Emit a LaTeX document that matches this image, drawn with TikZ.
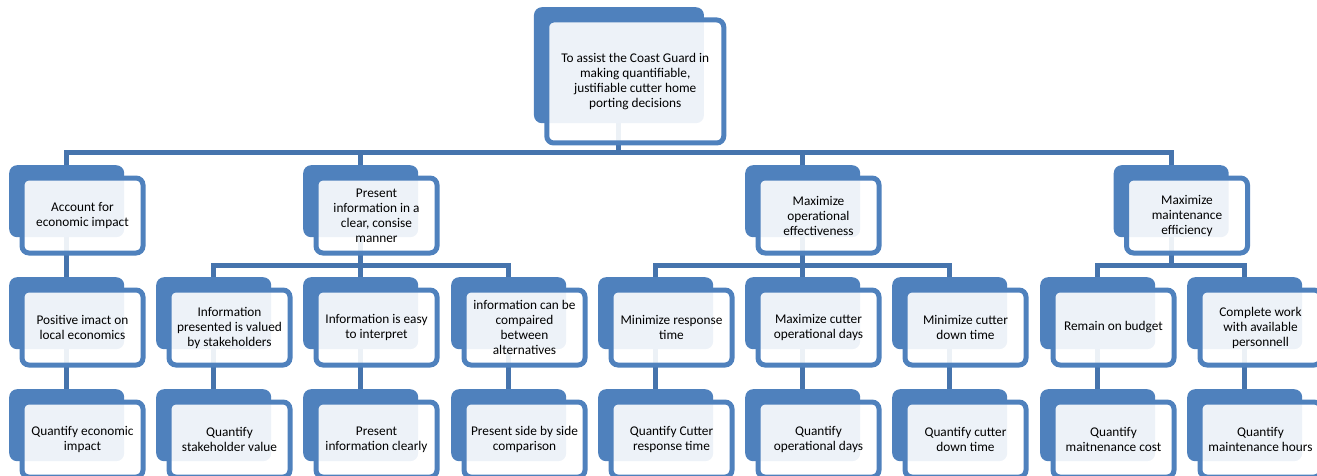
\documentclass[tikz,border=0pt]{standalone}
\usepackage{fontspec}
\setmainfont{Carlito}
\usepackage{tikz}
\usetikzlibrary{backgrounds}
\definecolor{goalblue}{HTML}{4F81BD}
\definecolor{linkblue}{HTML}{4674AD}

% back plate + framed text box, named #1b and #1
\newcommand{\goal}[4]{%
  \node[back] (#1b) at (#2,#3) {};
  \node[front] (#1) at (#2+10.5,#3+10.5) {#4};}

\begin{document}
\begin{tikzpicture}[x=1pt, y=-1pt]
\tikzstyle{back} = [anchor=north west, fill=goalblue, rounded corners=8pt, minimum width=115pt, minimum height=72pt, inner sep=0pt]
\tikzstyle{front} = [anchor=north west, draw=goalblue, line width=5pt, fill=white, fill opacity=0.9, text opacity=1, rounded corners=7pt, minimum width=121pt, minimum height=75pt, inner sep=0pt, align=center, font=\fontsize{13.3}{15}\selectfont]
\tikzstyle{link} = [draw=linkblue, line width=5pt]
\useasboundingbox (0,0) rectangle (1317,476);

\node[back, minimum width=170pt, minimum height=116pt] (goalb) at (533.75,7) {};
\node[front, minimum width=177pt, minimum height=123pt] (goal) at (544.25,17.5) {To assist the Coast Guard in\\making quantifiable,\\justifiable cutter home\\porting decisions};

\goal{acc}{9}{165}{Account for\\economic impact}
\goal{pres}{303}{165}{Present\\information in a\\clear, consise\\manner}
\goal{maxop}{745}{165}{Maximize\\operational\\effectiveness}
\goal{maxmt}{1113.5}{165}{Maximize\\maintenance\\efficiency}

\goal{pos}{9}{277}{Positive imact on\\local economics}
\goal{infv}{156}{277}{Information\\presented is valued\\by stakeholders}
\goal{infe}{303}{277}{Information is easy\\to interpret}
\goal{infc}{451}{277}{information can be\\compaired\\between\\alternatives}
\goal{minr}{598}{277}{Minimize response\\time}
\goal{maxd}{745}{277}{Maximize cutter\\operational days}
\goal{mind}{892}{277}{Minimize cutter\\down time}
\goal{budg}{1040}{277}{Remain on budget}
\goal{pers}{1187}{277}{Complete work\\with available\\personnell}

\goal{qeco}{9}{389}{Quantify economic\\impact}
\goal{qstk}{156}{389}{Quantify\\stakeholder value}
\goal{pinf}{303}{389}{Present\\information clearly}
\goal{pside}{451}{389}{Present side by side\\comparison}
\goal{qresp}{598}{389}{Quantify Cutter\\response time}
\goal{qdays}{745}{389}{Quantify\\operational days}
\goal{qdown}{892}{389}{Quantify cutter\\down time}
\goal{qcost}{1040}{389}{Quantify\\maitnenance cost}
\goal{qhrs}{1187}{389}{Quantify\\maintenance hours}

\begin{pgfonlayer}{background}
\draw[link] (goalb.south) -- ++(0,29) -| (accb.north);
\draw[link] (goalb.south) -- ++(0,29) -| (presb.north);
\draw[link] (goalb.south) -- ++(0,29) -| (maxopb.north);
\draw[link] (goalb.south) -- ++(0,29) -| (maxmtb.north);
\draw[link] (accb.south) -- (posb.north);
\draw[link] (presb.south) -- ++(0,28) -| (infvb.north);
\draw[link] (presb.south) -- ++(0,28) -| (infeb.north);
\draw[link] (presb.south) -- ++(0,28) -| (infcb.north);
\draw[link] (maxopb.south) -- ++(0,28) -| (minrb.north);
\draw[link] (maxopb.south) -- ++(0,28) -| (maxdb.north);
\draw[link] (maxopb.south) -- ++(0,28) -| (mindb.north);
\draw[link] (maxmtb.south) -- ++(0,28) -| (budgb.north);
\draw[link] (maxmtb.south) -- ++(0,28) -| (persb.north);
\draw[link] (posb.south) -- (qecob.north);
\draw[link] (infvb.south) -- (qstkb.north);
\draw[link] (infeb.south) -- (pinfb.north);
\draw[link] (infcb.south) -- (psideb.north);
\draw[link] (minrb.south) -- (qrespb.north);
\draw[link] (maxdb.south) -- (qdaysb.north);
\draw[link] (mindb.south) -- (qdownb.north);
\draw[link] (budgb.south) -- (qcostb.north);
\draw[link] (persb.south) -- (qhrsb.north);
\end{pgfonlayer}
\end{tikzpicture}
\end{document}
